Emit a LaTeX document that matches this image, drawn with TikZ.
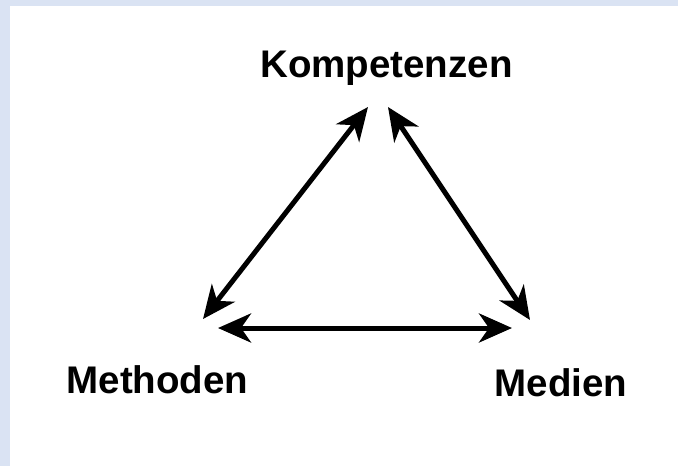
\documentclass[tikz,border=0pt]{standalone}
\usepackage{fontspec}
\setmainfont{Liberation Sans}
\usetikzlibrary{arrows.meta}
\definecolor{framebl}{RGB}{218,227,243}
\tikzset{
  lbl/.style={font=\bfseries\fontsize{38.5}{42}\selectfont, anchor=base, inner sep=0pt},
  dbl/.style={line width=5pt, arrows={Stealth[length=33pt,width=29pt,inset=10pt]-Stealth[length=33pt,width=29pt,inset=10pt]}}
}
\begin{document}
\begin{tikzpicture}[x=1pt,y=-1pt]
\fill[framebl] (0,0) rectangle (678,466);
\fill[white] (10,6) rectangle (678,466);
\useasboundingbox (0,0) rectangle (678,466);
\node[lbl] (komp) at (386.5,77) {Kompetenzen};
\node[lbl] (meth) at (157.5,393) {Methoden};
\node[lbl] (med) at (561,396) {Medien};
\coordinate (kl) at (368,107);
\coordinate (kr) at (388,107);
\coordinate (ml) at (203,319);
\coordinate (mh) at (218,328);
\coordinate (dh) at (512,328);
\coordinate (dr) at (530,320);
\draw[dbl] (kl) -- (ml);
\draw[dbl] (kr) -- (dr);
\draw[dbl] (mh) -- (dh);
\end{tikzpicture}
\end{document}
